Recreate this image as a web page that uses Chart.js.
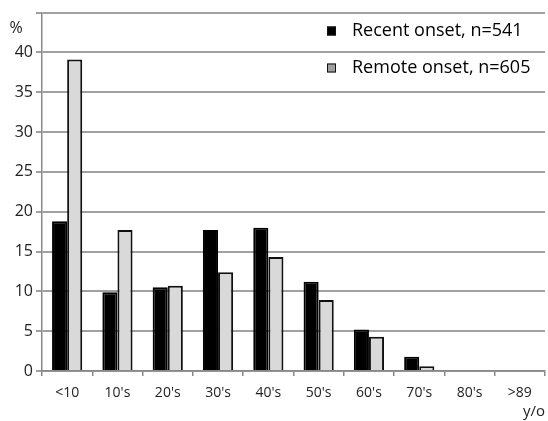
<!DOCTYPE html>
<html><head><meta charset="utf-8">
<script src="https://cdn.jsdelivr.net/npm/chart.js@4/dist/chart.umd.min.js"></script>
<style>html,body{margin:0;padding:0;background:#fff}#w{width:548px;height:421px}</style>
</head><body><div id="w"><canvas id="c"></canvas></div>
<script>
const categories = ['<10','10\'s','20\'s','30\'s','40\'s','50\'s','60\'s','70\'s','80\'s','>89'];
const recentOnset = [18.8, 9.9, 10.5, 17.7, 18.0, 11.2, 5.2, 1.8, 0, 0];
const remoteOnset = [39.1, 17.7, 10.7, 12.4, 14.3, 8.9, 4.3, 0.6, 0, 0];
const seriesNames = ['Recent onset, n=541', 'Remote onset, n=605'];
const yTicks = [0,5,10,15,20,25,30,35,40,45];
const yUnit = '%';
const FONT = "'Open Sans', 'Noto Sans', sans-serif";

const legendPlugin = {
  id: 'customLegend',
  afterDraw(chart) {
    const ctx = chart.ctx;
    ctx.save();
    const x0 = 327, ys = [31, 68];
    const swatch = ['#000000', '#a0a0a0'];
    chart.data.datasets.forEach((ds, i) => {
      const y = ys[i];
      ctx.fillStyle = swatch[i];
      ctx.fillRect(x0, y - 4.5, 9, 9);
      ctx.strokeStyle = '#111';
      ctx.lineWidth = 1;
      ctx.strokeRect(x0 + 0.5, y - 4, 8, 8);
      ctx.fillStyle = '#000';
      ctx.font = "18px " + FONT;
      ctx.textBaseline = 'middle';
      ctx.textAlign = 'left';
      ctx.fillText(ds.label, x0 + 25, y);
    });
    ctx.font = "16px " + FONT;
    ctx.fillStyle = '#222';
    ctx.textAlign = 'center';
    ctx.textBaseline = 'middle';
    ctx.fillText(yUnit, 16, 28);
    ctx.restore();
  }
};

new Chart(document.getElementById('c'), {
  type: 'bar',
  data: {
    labels: categories,
    datasets: [
      { label: seriesNames[0], data: recentOnset, backgroundColor: '#000000', borderColor: '#000000', borderWidth: 2 },
      { label: seriesNames[1], data: remoteOnset, backgroundColor: '#d9d9d9', borderColor: '#111111', borderWidth: 2 }
    ]
  },
  options: {
    responsive: true, maintainAspectRatio: false, animation: false,
    layout: { padding: { top: 12, right: 3, left: 0, bottom: 0 } },
    plugins: { legend: { display: false }, tooltip: { enabled: false } },
    datasets: { bar: { categoryPercentage: 0.6, barPercentage: 1.0 } },
    scales: {
      x: {
        grid: { offset: true, drawOnChartArea: false, color: '#888', tickLength: 5, lineWidth: 1.5 },
        border: { color: '#888', width: 1.5 },
        ticks: { color: '#222', font: { family: FONT, size: 14 }, padding: 9, maxRotation: 0, autoSkip: false },
        title: { display: true, text: 'y/o', align: 'end', color: '#222', font: { family: FONT, size: 15 }, padding: { top: 0, bottom: 0 } },
        afterFit(s) { s.height = 50; }
      },
      y: {
        min: 0, max: 45,
        afterBuildTicks(s) { s.ticks = yTicks.map(v => ({ value: v })); },
        grid: { color: '#a0a0a0', lineWidth: 2, tickLength: 6 },
        border: { color: '#888', width: 1.5 },
        ticks: { color: '#222', font: { family: FONT, size: 16 }, padding: 3,
          callback: v => v === 45 ? '' : v },
        afterFit(s) { s.width = 42; }
      }
    }
  },
  plugins: [legendPlugin]
});
</script></body></html>
